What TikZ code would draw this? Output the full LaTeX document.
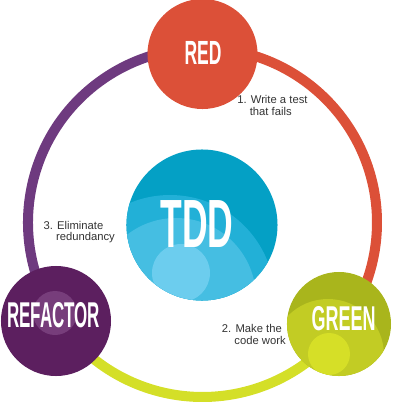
\documentclass[tikz,border=0pt]{standalone}
\usepackage{fontspec}
\setmainfont{Liberation Sans}
\usepackage{graphicx}
\usepackage{tikz}

\definecolor{stagered}{HTML}{DC5038}
\definecolor{ringpurple}{HTML}{6E3A7F}
\definecolor{ringyellow}{HTML}{D4DF28}
\definecolor{refbase}{HTML}{5C1F5F}
\definecolor{reflight}{HTML}{773D7B}
\definecolor{greenbase}{HTML}{A9B51C}
\definecolor{greenmid}{HTML}{C2CC24}
\definecolor{greenlight}{HTML}{D6DF27}
\definecolor{tddbase}{HTML}{04A0C5}
\definecolor{tddmid}{HTML}{22B0D7}
\definecolor{tddsoft}{HTML}{45BEE2}
\definecolor{tddlight}{HTML}{6CCDEE}
\definecolor{notegray}{HTML}{333333}

% big white condensed words, scaled to width x cap height
\newcommand{\stageword}[3]{\resizebox{#1}{#2}{\bfseries #3}}

\begin{document}
\begin{tikzpicture}[x=0.025cm, y=0.025cm,
  stage/.style={circle, inner sep=0pt, draw=none},
  word/.style={inner sep=0pt, text=white},
  ring/.style={line width=0.25cm},
  note/.style={anchor=base west, align=left, inner sep=0pt, text=notegray,
               font=\fontsize{8pt}{8.2pt}\selectfont}
]
  \useasboundingbox (-202.5,-181.5) rectangle (197.5,222.5);
  \coordinate (hub) at (0,0);

  % Ring
  \draw[ring, draw=stagered]   (hub) ++(90:174.5)    arc (90:-36.6:174.5);
  \draw[ring, draw=ringyellow] (hub) ++(-36.6:174.5) arc (-36.6:-146.1:174.5);
  \draw[ring, draw=ringpurple] (hub) ++(213.9:174.5) arc (213.9:90:174.5);

  % Nodes
  \node[stage, fill=stagered, minimum size=2.75cm] (red) at (0,168.5) {};
  \node[stage, fill=tddbase, minimum size=3.775cm, path picture={
      \fill[tddmid]   ([shift={(-32,-75)}]path picture bounding box.center) circle (105);
      \fill[tddsoft]  ([shift={(-26,-73)}]path picture bounding box.center) circle (80);
      \fill[tddlight] ([shift={(-21,-48)}]path picture bounding box.center) circle (29);
    }] (tdd) at (-0.5,-2.5) {};
  \node[stage, fill=greenbase, minimum size=2.6cm, path picture={
      \fill[greenmid]   ([shift={(-11,-31)}]path picture bounding box.center) circle (56);
      \fill[greenlight] ([shift={(-10,-30)}]path picture bounding box.center) circle (21);
    }] (green) at (136.5,-101.5) {};
  \node[stage, fill=refbase, minimum size=2.75cm, path picture={
      \fill[reflight] ([shift={(-1,8)}]path picture bounding box.center) circle (22);
    }] (refactor) at (-146.5,-98.5) {};

  % Words
  \node[word] (redword)      at ([shift={(0.5,1)}]red.center)     {\stageword{26.3pt}{16.4pt}{RED}};
  \node[word] (tddword)      at ([shift={(-5,1)}]tdd.center)      {\stageword{51.9pt}{33.4pt}{TDD}};
  \node[word] (greenword)    at ([shift={(4.7,5)}]green.center)   {\stageword{45.5pt}{17.1pt}{GREEN}};
  \node[word] (refactorword) at ([shift={(-2.5,5.5)}]refactor.center) {\stageword{66.1pt}{17.8pt}{REFACTOR}};

  % Notes
  \node[note] (write)     at (34.5,107.5)   {1. Write a test\\\hphantom{1.\ }that fails};
  \node[note] (eliminate) at (-159.2,-18.2) {3. Eliminate\\\hphantom{3.\ }redundancy};
  \node[note] (make)      at (19.2,-121.5)  {2. Make the\\\hphantom{2.\ }code work};
\end{tikzpicture}
\end{document}
